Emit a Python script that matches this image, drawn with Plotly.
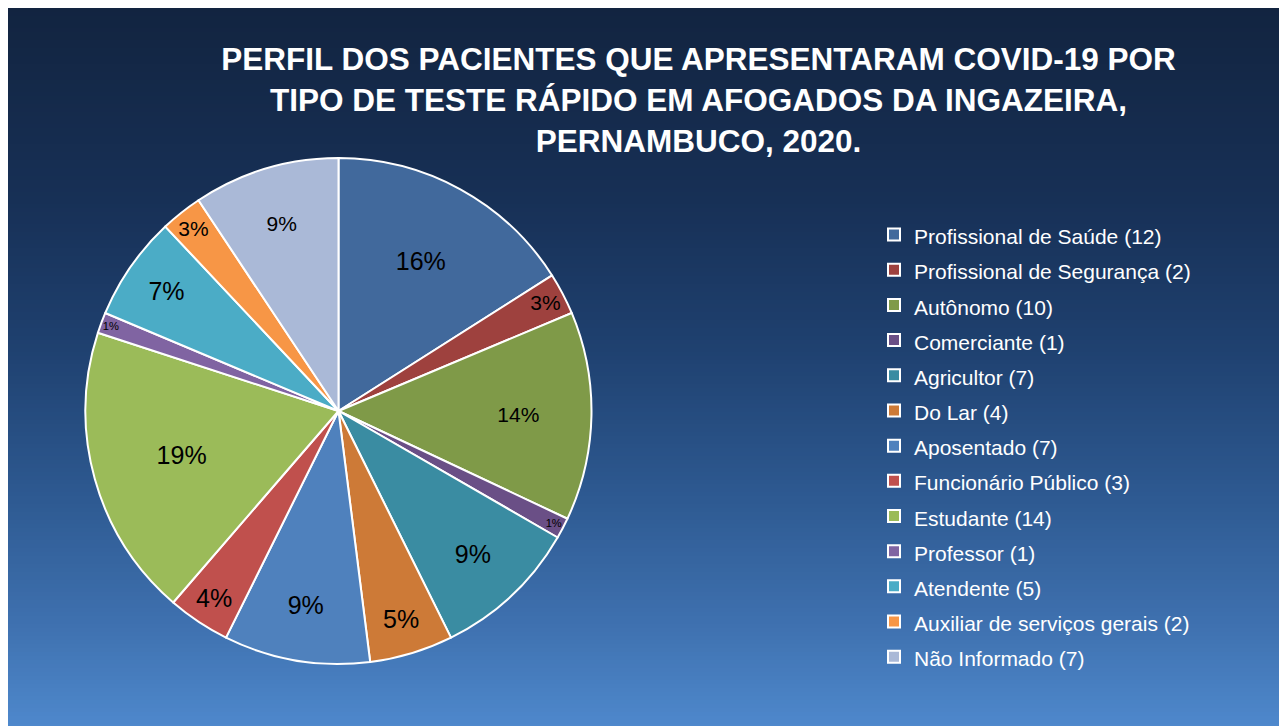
import plotly.graph_objects as go

categories = ["Profissional de Saúde", "Profissional de Segurança", "Autônomo", "Comerciante",
              "Agricultor", "Do Lar", "Aposentado", "Funcionário Público", "Estudante",
              "Professor", "Atendente", "Auxiliar de serviços gerais", "Não Informado"]
counts = [12, 2, 10, 1, 7, 4, 7, 3, 14, 1, 5, 2, 7]
pct_labels = ["16%", "3%", "14%", "1%", "9%", "5%", "9%", "4%", "19%", "1%", "7%", "3%", "9%"]
colors = ["#41699C", "#9E413E", "#7F9A48", "#6A4F86", "#3A8CA2", "#CD7A37", "#4F81BD",
          "#C0504D", "#9BBB59", "#8064A2", "#4BACC6", "#F79646", "#AAB9D7"]
label_sizes = [25, 21, 21, 18, 25, 25, 25, 25, 25, 18, 25, 21, 21]

W, H = 1279, 718
FONT = "Liberation Sans, Arial, sans-serif"
legend_labels = [f'<span style="font-size:21px">{c} ({n})</span>' for c, n in zip(categories, counts)]

cx, cy, r = 330.5, 403, 253  # pie centre/radius in figure px (from top-left)

fig = go.Figure()
fig.add_trace(go.Pie(
    labels=legend_labels,
    values=counts,
    text=pct_labels,
    textinfo="text",
    textposition="inside",
    insidetextorientation="horizontal",
    textfont=dict(family=FONT, color="black", size=label_sizes),
    sort=False,
    direction="clockwise",
    rotation=0,
    marker=dict(colors=colors, line=dict(color="white", width=2)),
    domain=dict(x=[(cx - r) / W, (cx + r) / W], y=[(H - cy - r) / H, (H - cy + r) / H]),
    hoverinfo="label+value+percent",
))

# gradient background
stops = [(0, (0x12, 0x24, 0x40)), (192, (0x17, 0x30, 0x56)), (342, (0x1F, 0x41, 0x70)),
         (492, (0x2E, 0x5A, 0x92)), (612, (0x3E, 0x70, 0xAE)), (718, (0x4E, 0x88, 0xCC))]

def col_at(y):
    for (y0, c0), (y1, c1) in zip(stops[:-1], stops[1:]):
        if y0 <= y <= y1:
            t = (y - y0) / (y1 - y0)
            return "rgb(%d,%d,%d)" % tuple(round(a + (b - a) * t) for a, b in zip(c0, c1))
    return "rgb(%d,%d,%d)" % stops[-1][1]

shapes = []
step = 4
y = 0
while y < H:
    y2 = min(y + step, H)
    shapes.append(dict(type="rect", xref="paper", yref="paper", layer="below",
                       x0=0, x1=1, y0=max(0, 1 - (y2 + 0.5) / H), y1=1 - y / H,
                       fillcolor=col_at((y + y2) / 2), line=dict(width=0)))
    y = y2

fig.update_layout(
    width=W, height=H,
    margin=dict(l=0, r=0, t=0, b=0),
    paper_bgcolor=col_at(0),
    plot_bgcolor="rgba(0,0,0,0)",
    shapes=shapes,
    title=dict(
        text="<b>PERFIL DOS PACIENTES QUE APRESENTARAM COVID-19 POR<br>TIPO DE TESTE RÁPIDO EM AFOGADOS DA INGAZEIRA,<br>PERNAMBUCO, 2020.</b>",
        x=690.5 / W, xanchor="center", y=1 - 62 / H, yanchor="top",
        font=dict(family=FONT, size=31.5, color="white"),
    ),
    legend=dict(
        x=866 / W, xanchor="left", y=1 - 204 / H, yanchor="top",
        font=dict(family=FONT, size=24.75, color="white"),
        bgcolor="rgba(0,0,0,0)",
        itemclick=False,
    ),
    showlegend=True,
)

fig.write_html("out.html")
